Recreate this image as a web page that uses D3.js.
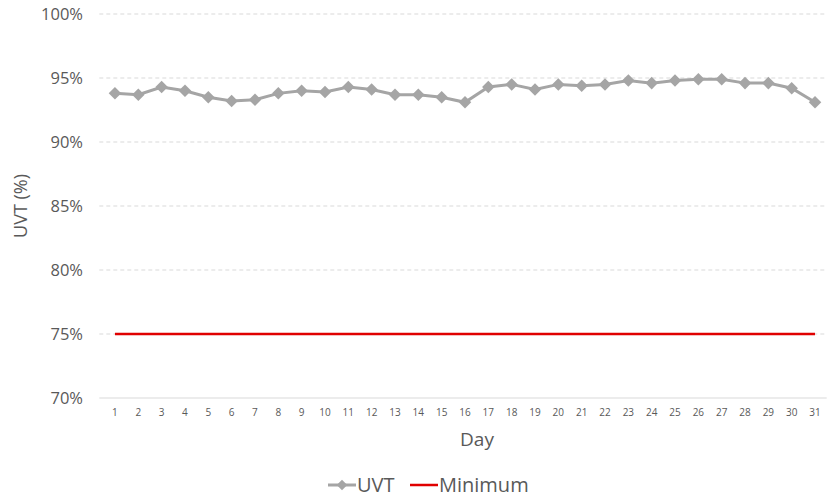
<!DOCTYPE html>
<html>
<head>
<meta charset="utf-8">
<script src="https://cdn.jsdelivr.net/npm/d3@7"></script>
<style>
  body { margin: 0; background: #fff; }
  svg { font-family: "Open Sans", Lato, sans-serif; }
</style>
</head>
<body>
<svg id="chart" width="839" height="498"></svg>
<script>
const days = d3.range(1, 32);
const uvt = [93.8, 93.7, 94.3, 94.0, 93.5, 93.2, 93.3, 93.8, 94.0, 93.9,
             94.3, 94.1, 93.7, 93.7, 93.5, 93.1, 94.3, 94.5, 94.1, 94.5,
             94.4, 94.5, 94.8, 94.6, 94.8, 94.9, 94.9, 94.6, 94.6, 94.2, 93.1];
const minimum = days.map(() => 75);
const yTicks = [70, 75, 80, 85, 90, 95, 100];

const svg = d3.select("#chart");
const m = { left: 103.3, right: 826.7, top: 14, bottom: 398 };

const x = d3.scaleBand().domain(days).range([m.left, m.right]);
const y = d3.scaleLinear().domain([70, 100]).range([m.bottom, m.top]);
const cx = d => x(d) + x.bandwidth() / 2;

// gridlines
svg.append("g").selectAll("line")
  .data(yTicks.filter(t => t > 70))
  .join("line")
  .attr("x1", m.left - 4).attr("x2", m.right)
  .attr("y1", d => y(d)).attr("y2", d => y(d))
  .attr("stroke", "#d9d9d9")
  .attr("stroke-dasharray", "4,3");

// x axis line
svg.append("line")
  .attr("x1", m.left - 4).attr("x2", m.right)
  .attr("y1", y(70)).attr("y2", y(70))
  .attr("stroke", "#d9d9d9");

// y tick labels
svg.append("g").selectAll("text")
  .data(yTicks)
  .join("text")
  .attr("x", 83).attr("y", d => y(d))
  .attr("dy", "0.35em")
  .attr("text-anchor", "end")
  .attr("font-size", 16.5)
  .attr("fill", "#595959")
  .text(d => d + "%");

// x tick labels
svg.append("g").selectAll("text")
  .data(days)
  .join("text")
  .attr("x", d => cx(d)).attr("y", 416)
  .attr("text-anchor", "middle")
  .attr("font-size", 10)
  .attr("fill", "#595959")
  .text(d => d);

// axis titles
svg.append("text")
  .attr("transform", "translate(27,206) rotate(-90)")
  .attr("text-anchor", "middle")
  .attr("font-size", 18)
  .attr("fill", "#595959")
  .text("UVT (%)");

svg.append("text")
  .attr("x", 477).attr("y", 446)
  .attr("text-anchor", "middle")
  .attr("font-size", 19)
  .attr("fill", "#595959")
  .text("Day");

const line = d3.line().x((d, i) => cx(days[i])).y(d => y(d));

// minimum
svg.append("path")
  .datum(minimum)
  .attr("d", line)
  .attr("fill", "none")
  .attr("stroke", "#e00000")
  .attr("stroke-width", 2.5);

// uvt
svg.append("path")
  .datum(uvt)
  .attr("d", line)
  .attr("fill", "none")
  .attr("stroke", "#a5a5a5")
  .attr("stroke-width", 3);

const diamond = d3.symbol().type(d3.symbolDiamond2).size(100);
svg.append("g").selectAll("path")
  .data(uvt)
  .join("path")
  .attr("transform", (d, i) => `translate(${cx(days[i])},${y(d)})`)
  .attr("d", diamond)
  .attr("fill", "#a5a5a5");

// legend
const lg = svg.append("g").attr("transform", "translate(0,485)");
lg.append("line").attr("x1", 328).attr("x2", 356).attr("y1", 0).attr("y2", 0)
  .attr("stroke", "#a5a5a5").attr("stroke-width", 3);
lg.append("path").attr("transform", "translate(342,0)")
  .attr("d", d3.symbol().type(d3.symbolDiamond2).size(70)).attr("fill", "#a5a5a5");
lg.append("text").attr("x", 357).attr("y", 0).attr("dy", "0.35em")
  .attr("font-size", 20).attr("fill", "#595959").text("UVT");
lg.append("line").attr("x1", 410).attr("x2", 438).attr("y1", 0).attr("y2", 0)
  .attr("stroke", "#e00000").attr("stroke-width", 2.5);
lg.append("text").attr("x", 439).attr("y", 0).attr("dy", "0.35em")
  .attr("font-size", 20).attr("fill", "#595959").text("Minimum");
</script>
</body>
</html>
